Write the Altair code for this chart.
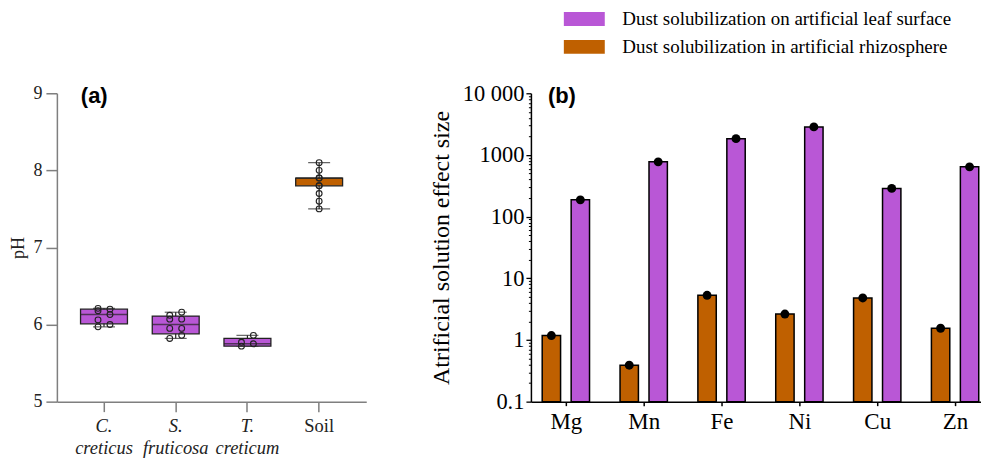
import altair as alt
import pandas as pd

# ---------------- Panel (a): pH ----------------
groups = ["C. creticus", "S. fruticosa", "T. creticum", "Soil"]
ph_c = [5.97, 6.00, 6.06, 6.13, 6.18, 6.20, 6.21]
ph_s = [5.82, 5.86, 5.95, 5.95, 6.07, 6.07, 6.12, 6.16]
ph_t = [5.72, 5.75, 5.77, 5.86]
ph_soil = [7.5, 7.6, 7.7, 7.8, 7.8, 7.9, 7.9, 8.0, 8.1]
box_min = [5.97, 5.82, 5.72, 7.5]
box_q1 = [6.01, 5.88, 5.72, 7.8]
box_median = [6.13, 6.00, 5.75, 7.9]
box_q3 = [6.20, 6.11, 5.82, 7.9]
box_max = [6.21, 6.16, 5.86, 8.1]
ph_ticks = [5, 6, 7, 8, 9]

# ---------------- Panel (b): effect size ----------------
elements = ["Mg", "Mn", "Fe", "Ni", "Cu", "Zn"]
leaf_surface = [187, 773, 1838, 2851, 287, 641]
rhizosphere = [1.18, 0.39, 5.3, 2.63, 4.8, 1.55]
series = ["Dust solubilization on artificial leaf surface",
          "Dust solubilization in artificial rhizosphere"]
y_ticks_b = [0.1, 1, 10, 100, 1000, 10000]
y_labels_b = ["0.1", "1", "10", "100", "1000", "10 000"]

PURPLE = "#B957D6"
ORANGE = "#BF6000"
SERIF = "Liberation Serif"

# ---------- data frames ----------
pts = []
for g, vals in zip(groups, [ph_c, ph_s, ph_t, ph_soil]):
    for v in vals:
        pts.append({"group": g, "ph": v})
pts_df = pd.DataFrame(pts)
box_df = pd.DataFrame({"group": groups, "mn": box_min, "q1": box_q1,
                       "med": box_median, "q3": box_q3, "mx": box_max})

rows = []
for i, el in enumerate(elements):
    rows.append({"element": el, "idx": i, "series": series[0], "value": leaf_surface[i]})
    rows.append({"element": el, "idx": i, "series": series[1], "value": rhizosphere[i]})
bdf = pd.DataFrame(rows)

# ---------- panel (a) ----------
AX_GREY = "#7f7f7f"
yscale_a = alt.Scale(domain=[5, 9], nice=False, zero=False)
xscale_a = alt.Scale(paddingInner=0, paddingOuter=0.157)
xaxis_a = alt.Axis(title=None, labelExpr="split(datum.label, ' ')",
                   labelFont=SERIF, labelFontSize=18.5, labelColor="#222",
                   labelFontStyle={"condition": {"test": "datum.value == 'Soil'", "value": "normal"}, "value": "italic"},
                   labelLineHeight=22, labelAngle=0, labelPadding=5,
                   domainColor=AX_GREY, domainWidth=1.5, tickColor=AX_GREY,
                   tickWidth=1.5, tickSize=10, labelBaseline="top")
yaxis_a = alt.Axis(values=ph_ticks, title="pH", titleFont=SERIF,
                   titleFontSize=18, titleFontWeight="normal", titleColor="#222",
                   titlePadding=5, labelFont=SERIF, labelFontSize=18,
                   labelColor="#222", labelPadding=4, grid=False,
                   domainColor=AX_GREY, domainWidth=1.5, tickColor=AX_GREY,
                   tickWidth=1.5, tickSize=11)


def xa():
    return alt.X("group:N", sort=groups, scale=xscale_a, axis=xaxis_a)


def ya(field):
    return alt.Y(field, scale=yscale_a, axis=yaxis_a)


base_box = alt.Chart(box_df)
whisker = base_box.mark_rule(color="#222", strokeWidth=1.2).encode(
    x=xa(), y=ya("mn:Q"), y2="mx:Q")
cap_lo = base_box.mark_tick(color="#222", thickness=1.2, size=22).encode(
    x=xa(), y=ya("mn:Q"))
cap_hi = base_box.mark_tick(color="#222", thickness=1.2, size=22).encode(
    x=xa(), y=ya("mx:Q"))
box = base_box.mark_bar(width=47, stroke="#222", strokeWidth=1.3).encode(
    x=xa(), y=ya("q1:Q"), y2="q3:Q",
    fill=alt.condition("datum.group == 'Soil'", alt.value(ORANGE), alt.value(PURPLE)))
median = base_box.mark_tick(color="#222", thickness=1.5, size=47).encode(
    x=xa(), y=ya("med:Q"))
points_a = alt.Chart(pts_df).transform_window(
    rn="row_number()", groupby=["group"], sort=[alt.SortField("ph")]
).transform_calculate(
    jitter="datum.group == 'Soil' ? 0 : (datum.rn % 2 == 1 ? -1 : 1)"
).mark_point(filled=False, size=34, stroke="#222", strokeWidth=1.1, opacity=1).encode(
    x=xa(),
    xOffset=alt.XOffset("jitter:Q", scale=alt.Scale(domain=[-6, 6])),
    y=ya("ph:Q"))
label_a = alt.Chart(pd.DataFrame({"t": ["(a)"]})).mark_text(
    font="Liberation Sans", fontSize=22, fontWeight="bold", align="left",
    baseline="middle", color="black").encode(
    text="t:N", x=alt.value(24), y=alt.value(3))

left = alt.layer(whisker, cap_lo, cap_hi, box, median, points_a, label_a).properties(
    width=310, height=309)

# ---------- panel (b) ----------
x_labels_expr = "[" + ",".join("'" + e + "'" for e in elements) + "][datum.value]"
xscale_b = alt.Scale(domain=[-0.449, 5.333], nice=False, zero=False)
yscale_b = alt.Scale(type="log", domain=[0.1, 10000], nice=False)
y_label_expr = "{" + ",".join("'" + str(v) + "':'" + l + "'" for v, l in zip(y_ticks_b, y_labels_b)) + "}[datum.value + '']"
minor_ticks = [round(m * d, 6) for d in y_ticks_b[:-1] for m in range(2, 10)]

xaxis_b = alt.Axis(values=list(range(len(elements))), labelExpr=x_labels_expr,
                   title=None, grid=False, labelFont=SERIF, labelFontSize=23,
                   labelColor="black", labelPadding=5, tickSize=4, tickColor="black",
                   domainColor="black", domainWidth=1.5, tickWidth=1.5)

base_b = alt.Chart(bdf).transform_calculate(
    xc="datum.idx + (datum.series == '" + series[0] + "' ? 0.186 : -0.186)"
).transform_calculate(
    x1="datum.xc - 0.118", x2="datum.xc + 0.118")

bars = base_b.mark_bar(stroke="black", strokeWidth=1.5).encode(
    x=alt.X("x1:Q", scale=xscale_b, axis=xaxis_b),
    x2="x2:Q",
    y=alt.Y("value:Q", scale=yscale_b,
            axis=alt.Axis(values=y_ticks_b, labelExpr=y_label_expr,
                          title="Atrificial solution effect size", titleFont=SERIF,
                          titleFontSize=24, titleFontWeight="normal", titleColor="black",
                          titlePadding=9, labelFont=SERIF, labelFontSize=22.5,
                          labelColor="black", labelPadding=2, grid=False, tickSize=5,
                          tickColor="black", tickWidth=1.3, domainColor="black",
                          domainWidth=1.5, orient="left")),
    y2=alt.datum(0.1),
    fill=alt.Fill("series:N", scale=alt.Scale(domain=series, range=[PURPLE, ORANGE]),
                  legend=alt.Legend(title=None, orient="none", legendX=519, legendY=-84,
                                    symbolType="M-2.93,-1H2.93V1H-2.93Z", symbolSize=196,
                                    symbolStrokeWidth=0, labelFont=SERIF, labelFontSize=19,
                                    labelColor="black", labelOffset=28.5, rowPadding=8,
                                    labelLimit=0, padding=0)))
dots = base_b.mark_circle(size=80, color="black", opacity=1).encode(
    x=alt.X("xc:Q", scale=xscale_b, axis=xaxis_b),
    y=alt.Y("value:Q", scale=yscale_b,
            axis=alt.Axis(values=minor_ticks, labels=False, title=None, grid=False,
                          domain=False, tickSize=2.5, tickColor="black", tickWidth=1,
                          orient="left")))
label_b = alt.Chart(pd.DataFrame({"t": ["(b)"]})).mark_text(
    font="Liberation Sans", fontSize=22, fontWeight="bold", align="left",
    baseline="middle", color="black").encode(
    text="t:N", x=alt.value(17), y=alt.value(3))

right = alt.layer(bars, dots, label_b).resolve_axis(y="independent").properties(
    width=451, height=309)

chart = alt.hconcat(left, right, spacing=63).properties(
    padding={"left": 10, "top": 9, "right": 0, "bottom": 0}
).configure(background="white").configure_view(stroke=None)

chart.save("out.html", embed_options={"renderer": "svg", "actions": False})
